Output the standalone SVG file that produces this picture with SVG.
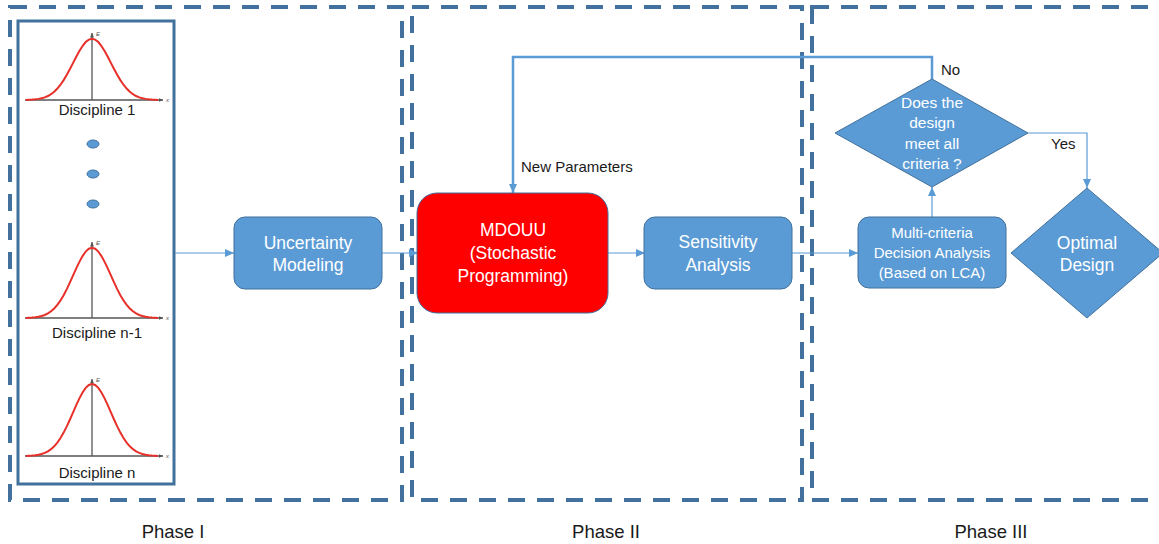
<svg xmlns="http://www.w3.org/2000/svg" xmlns:xlink="http://www.w3.org/1999/xlink" width="1159" height="544" viewBox="0 0 1159 544">
<style>
text{font-family:"Liberation Sans",Arial,sans-serif;}
.phase{fill:none;stroke:#41719C;stroke-width:4;stroke-dasharray:17 12;}
.node{fill:#5B9BD5;stroke:#41719C;stroke-width:1;}
.red{fill:#FF0000;stroke:#41719C;stroke-width:1;}
.wt{fill:#FFFFFF;text-anchor:middle;}
.t17{font-size:17.5px;}
.t15{font-size:15px;}
.lbl{fill:#1a1a1a;font-size:15px;}
.disc{fill:#1a1a1a;font-size:15px;text-anchor:middle;}
.ph{fill:#1a1a1a;font-size:18.5px;text-anchor:middle;}
.conn{fill:none;stroke:#5B9BD5;stroke-width:1.2;}
.fb{fill:none;stroke:#5B9BD5;stroke-width:2.5;}
.axis{fill:none;stroke:#555555;stroke-width:1.3;}
.bell{fill:none;stroke:#E8302A;stroke-width:2;vector-effect:non-scaling-stroke;}
.ax{fill:#555555;font-size:6px;font-style:italic;}
</style>
<defs>
<marker id="arr" markerUnits="userSpaceOnUse" markerWidth="10" markerHeight="10" viewBox="0 0 10 10" refX="9" refY="5" orient="auto">
<path d="M0,1 L9,5 L0,9 Z" fill="#5B9BD5"/>
</marker>
<marker id="axarr" markerUnits="userSpaceOnUse" markerWidth="5" markerHeight="5" viewBox="0 0 10 10" refX="9" refY="5" orient="auto">
<path d="M0,1 L9,5 L0,9 Z" fill="#555555"/>
</marker>
<polyline id="bellcurve" class="bell" points="-63,0 -57,-0.4 -54,-0.7 -51,-1.1 -48,-1.7 -45,-2.6 -42,-3.9 -39,-5.7 -36,-8.1 -33,-11.2 -30,-15 -27,-19.5 -24,-24.7 -21,-30.4 -18,-36.4 -15,-42.4 -12,-48 -9,-52.9 -6,-56.8 -3,-59.2 0,-60 3,-59.2 6,-56.8 9,-52.9 12,-48 15,-42.4 18,-36.4 21,-30.4 24,-24.7 27,-19.5 30,-15 33,-11.2 36,-8.1 39,-5.7 42,-3.9 45,-2.6 48,-1.7 51,-1.1 54,-0.7 57,-0.4 63,0"/>
</defs>
<rect width="1159" height="544" fill="#FFFFFF"/>

<g id="phase1">
<rect class="phase" x="10" y="7" width="392" height="493"/>
<text class="ph" x="173" y="538">Phase I</text>
</g>
<g id="phase2">
<rect class="phase" x="412" y="7" width="390" height="493"/>
<text class="ph" x="606" y="538">Phase II</text>
</g>
<g id="phase3">
<rect class="phase" x="812" y="7" width="400" height="493"/>
<text class="ph" x="991" y="538">Phase III</text>
</g>

<g id="disciplines">
<rect x="18" y="21" width="156" height="463" fill="none" stroke="#41719C" stroke-width="3"/>
<g id="discipline1">
<line class="axis" x1="25" y1="100" x2="163" y2="100" marker-end="url(#axarr)"/>
<line class="axis" x1="92" y1="100" x2="92" y2="33" marker-end="url(#axarr)"/>
<use xlink:href="#bellcurve" transform="translate(92,100) scale(1.05,1.02)"/>
<text class="ax" x="96" y="36">E</text>
<text class="ax" x="166" y="102">x</text>
<text class="disc" x="97" y="115">Discipline 1</text>
</g>
<g id="dots">
<ellipse cx="93" cy="144" rx="6" ry="4" class="node"/>
<ellipse cx="93" cy="174" rx="6" ry="4" class="node"/>
<ellipse cx="93" cy="204" rx="6" ry="4" class="node"/>
</g>
<g id="discipline-n-1">
<line class="axis" x1="25" y1="318" x2="163" y2="318" marker-end="url(#axarr)"/>
<line class="axis" x1="92" y1="318" x2="92" y2="242" marker-end="url(#axarr)"/>
<use xlink:href="#bellcurve" transform="translate(92,318) scale(1.05,1.17)"/>
<text class="ax" x="96" y="245">E</text>
<text class="ax" x="166" y="320">x</text>
<text class="disc" x="97" y="338">Discipline n-1</text>
</g>
<g id="discipline-n">
<line class="axis" x1="25" y1="456" x2="163" y2="456" marker-end="url(#axarr)"/>
<line class="axis" x1="92" y1="456" x2="92" y2="379" marker-end="url(#axarr)"/>
<use xlink:href="#bellcurve" transform="translate(92,456) scale(1.05,1.2)"/>
<text class="ax" x="96" y="382">E</text>
<text class="ax" x="166" y="458">x</text>
<text class="disc" x="97" y="478">Discipline n</text>
</g>
</g>

<g id="connectors">
<line class="conn" x1="175" y1="253" x2="234" y2="253" marker-end="url(#arr)"/>
<line class="conn" x1="382" y1="253" x2="418" y2="253" marker-end="url(#arr)"/>
<line class="conn" x1="608" y1="253" x2="645" y2="253" marker-end="url(#arr)"/>
<line class="conn" x1="792" y1="253" x2="858" y2="253" marker-end="url(#arr)"/>
<line class="conn" x1="932" y1="217" x2="932" y2="187" marker-end="url(#arr)"/>
<polyline class="conn" points="1028,133 1087,133 1087,188" marker-end="url(#arr)"/>
<polyline class="fb" points="932,79 932,57 513,57 513,193" marker-end="url(#arr)"/>
<text class="lbl" x="521" y="172">New Parameters</text>
<text class="lbl" x="941" y="75">No</text>
<text class="lbl" x="1051" y="149">Yes</text>
</g>

<g id="uncertainty">
<rect class="node" x="234" y="217" width="148" height="72" rx="11"/>
<text class="wt t17" x="308" y="249">Uncertainty</text>
<text class="wt t17" x="308" y="271">Modeling</text>
</g>
<g id="mdouu">
<rect class="red" x="417" y="193" width="191" height="120" rx="20"/>
<text class="wt t17" x="513" y="236">MDOUU</text>
<text class="wt t17" x="513" y="259">(Stochastic</text>
<text class="wt t17" x="513" y="282">Programming)</text>
</g>
<g id="sensitivity">
<rect class="node" x="644" y="217" width="148" height="72" rx="11"/>
<text class="wt t17" x="718" y="248">Sensitivity</text>
<text class="wt t17" x="718" y="271">Analysis</text>
</g>
<g id="mcda">
<rect class="node" x="858" y="217" width="148" height="71" rx="11"/>
<text class="wt t15" x="932" y="238">Multi-criteria</text>
<text class="wt t15" x="932" y="258">Decision Analysis</text>
<text class="wt t15" x="932" y="278">(Based on LCA)</text>
</g>
<g id="decision">
<polygon class="node" points="932,79 1028,133 932,187 835,133"/>
<text class="wt" style="font-size:15.5px" x="932" y="108">Does the</text>
<text class="wt" style="font-size:15.5px" x="932" y="128">design</text>
<text class="wt" style="font-size:15.5px" x="932" y="149">meet all</text>
<text class="wt" style="font-size:15.5px" x="932" y="169">criteria ?</text>
</g>
<g id="optimal">
<polygon class="node" points="1087,188 1163,253 1087,318 1011,253"/>
<text class="wt t17" x="1087" y="249">Optimal</text>
<text class="wt t17" x="1087" y="271">Design</text>
</g>
</svg>
